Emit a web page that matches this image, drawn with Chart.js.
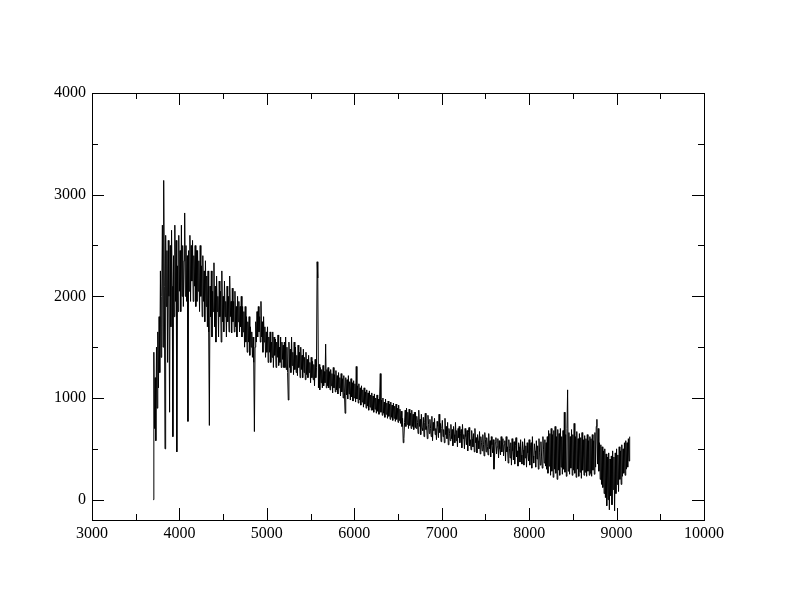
<!DOCTYPE html>
<html>
<head>
<meta charset="utf-8">
<script src="https://cdn.jsdelivr.net/npm/chart.js@4.4.1/dist/chart.umd.min.js"></script>
<style>
  html, body { margin: 0; padding: 0; background: #fff; }
  #wrap { width: 792px; height: 612px; }
</style>
</head>
<body>
<div id="wrap"><canvas id="grafico" width="792" height="612"></canvas></div>
<script>
const step = 7.5
const flux3700 = [0, 1450, 700, 1200, 580, 1500, 900, 1650, 1100, 1800, 1250, 2250, 1400, 2000, 2700, 1500, 3140, 2100, 500, 2600, 1900, 2450, 1350, 2550, 2000, 860, 2500, 1700, 2650, 2100, 620, 2400, 1800, 2700, 1950, 2550, 470, 2300, 1850, 2600, 2050, 2450, 1850, 2700, 2000, 2500, 1900, 2350, 2820, 2000, 2500, 1950, 2400, 770, 2450, 2050, 2600, 1950, 2500, 2150, 2550, 1950, 2400, 2100, 2500, 1900, 2450]
const flux4200 = [1950, 2450, 2050, 2350, 1850, 2500, 2000, 2300, 1800, 2400, 1950, 2250, 1750, 2350, 1900, 2200, 1700, 2250, 1650, 730, 2100, 1800, 2250, 1600, 2050, 1850, 2330, 1700, 2100, 1550, 2200, 1850, 2000, 1600, 2150, 1800, 2050, 1550, 2250, 1750, 2000, 1650, 2150, 1800, 1950, 1600, 2100, 1750, 2000, 1650, 2200, 1800, 1950, 1640, 2080, 1750, 1950, 1650, 2050, 1700, 1900, 1600, 2000, 1750, 1950, 1650, 1900]
const flux4700 = [1700, 2000, 1600, 1900, 1650, 1850, 1500, 1900, 1550, 1800, 1450, 1750, 1550, 1800, 1420, 1700, 1500, 1650, 1400, 1600, 1350, 670, 1500, 1750, 1550, 1850, 1600, 1900, 1650, 1800, 1550, 1950, 1600, 1750, 1450, 1800, 1550, 1700, 1400, 1650, 1450, 1700, 1350, 1600, 1450, 1650, 1350, 1550, 1400, 1650, 1300, 1600, 1420, 1580, 1300, 1550, 1400, 1620, 1320, 1500, 1350, 1600, 1300, 1550, 1380, 1520, 1300]
const flux5200 = [1550, 1300, 1600, 1280, 1500, 1250, 980, 1550, 1300, 1480, 1250, 1600, 1320, 1450, 1230, 1550, 1280, 1500, 1250, 1420, 1220, 1520, 1300, 1450, 1200, 1500, 1280, 1420, 1200, 1480, 1250, 1400, 1180, 1450, 1230, 1380, 1200, 1420, 1250, 1350, 1150, 1400, 1200, 1360, 1180, 1330, 1120, 1380, 1200, 1300, 2340, 2180, 1100, 1330, 1080, 1300, 1150, 1280, 1100, 1320, 1120, 1260, 1150, 1530, 1100, 1280, 1120]
const flux5700 = [1300, 1100, 1260, 1080, 1280, 1120, 1240, 1050, 1300, 1100, 1230, 1060, 1270, 1080, 1220, 1040, 1250, 1100, 1200, 1020, 1240, 1060, 1190, 1000, 1220, 1050, 850, 1200, 1030, 1180, 990, 1220, 1040, 1160, 980, 1190, 1010, 1150, 970, 1170, 1000, 1140, 960, 1310, 990, 1120, 950, 1140, 980, 1100, 930, 1120, 960, 1080, 910, 1100, 940, 1060, 900, 1080, 920, 1050, 880, 1070, 910, 1030, 880]
const flux6200 = [1050, 880, 1020, 860, 1040, 890, 1000, 850, 1030, 870, 990, 840, 1010, 1240, 860, 980, 830, 1000, 850, 960, 810, 990, 840, 950, 800, 970, 820, 940, 790, 960, 810, 930, 780, 950, 800, 920, 770, 940, 790, 900, 760, 930, 780, 890, 750, 870, 720, 800, 560, 600, 760, 880, 720, 900, 740, 860, 700, 890, 730, 850, 700, 880, 720, 840, 690, 860, 710]
const flux6700 = [860, 700, 820, 760, 650, 880, 720, 790, 640, 840, 700, 680, 810, 620, 760, 850, 690, 720, 600, 830, 740, 650, 790, 700, 620, 820, 580, 760, 680, 800, 640, 700, 590, 770, 720, 610, 840, 660, 750, 570, 700, 780, 620, 690, 560, 800, 640, 720, 600, 760, 540, 700, 650, 580, 740, 600, 690, 530, 720, 640, 560, 760, 580, 680, 520, 700, 610]
const flux7200 = [720, 560, 650, 690, 510, 740, 600, 640, 500, 700, 620, 540, 680, 480, 660, 710, 530, 590, 490, 680, 600, 520, 650, 470, 700, 560, 610, 460, 640, 580, 500, 670, 450, 620, 560, 480, 640, 540, 430, 660, 590, 470, 610, 520, 440, 650, 500, 580, 420, 620, 540, 460, 590, 300, 430, 560, 610, 450, 520, 600, 410, 580, 500, 440, 620, 470, 560]
const flux7700 = [600, 430, 540, 580, 380, 620, 470, 520, 360, 590, 500, 410, 560, 340, 600, 480, 390, 570, 350, 530, 610, 420, 480, 330, 560, 520, 370, 590, 440, 350, 570, 490, 340, 600, 410, 530, 320, 560, 460, 380, 590, 340, 510, 560, 310, 620, 430, 360, 550, 480, 320, 580, 400, 530, 300, 600, 460, 340, 570, 420, 310, 620, 490, 360, 590, 330, 560]
const flux8200 = [300, 620, 260, 680, 330, 650, 240, 700, 280, 640, 220, 680, 300, 720, 260, 620, 200, 690, 290, 650, 240, 700, 320, 620, 250, 680, 300, 860, 270, 640, 230, 700, 1080, 280, 660, 250, 620, 310, 690, 240, 640, 290, 750, 260, 620, 220, 670, 300, 600, 230, 650, 270, 610, 210, 660, 290, 590, 240, 630, 270, 600, 230, 640, 280, 580, 240, 620]
const flux8700 = [260, 600, 230, 640, 290, 580, 250, 660, 320, 720, 790, 350, 700, 280, 560, 200, 540, 150, 520, 120, 480, 60, 500, 20, 450, -60, 420, 0, 460, -100, 400, 40, 430, -50, 480, 100, 420, -110, 460, 60, 500, 150, 440, 80, 520, 200, 480, 150, 540, 230, 500, 260, 560, 240, 580, 300, 560, 320, 600, 380, 620]

const chunkStarts = [3700, 4200, 4700, 5200, 5700, 6200, 6700, 7200, 7700, 8200, 8700]
const chunks = [flux3700, flux4200, flux4700, flux5200, flux5700, flux6200, flux6700, flux7200, flux7700, flux8200, flux8700]

const xTicks = [3000, 4000, 5000, 6000, 7000, 8000, 9000, 10000]
const yTicks = [0, 1000, 2000, 3000, 4000]
const xMinor = [3500, 4500, 5500, 6500, 7500, 8500, 9500]
const yMinor = [500, 1500, 2500, 3500]

const pontos = []
chunks.forEach((arr, k) => {
  arr.forEach((v, i) => pontos.push({ x: chunkStarts[k] + i * step, y: v }))
})

// box round the plot with ticks pointing in, on all four sides
const moldura = {
  id: 'moldura',
  afterDraw(chart) {
    const ctx = chart.ctx
    const a = chart.chartArea
    const sx = chart.scales.x
    const sy = chart.scales.y
    ctx.save()
    ctx.strokeStyle = '#000'
    ctx.lineWidth = 1
    ctx.strokeRect(a.left + 0.5, a.top + 0.5, a.right - a.left, a.bottom - a.top)
    ctx.beginPath()
    const tx = (v, len) => {
      const p = Math.round(sx.getPixelForValue(v)) + 0.5
      ctx.moveTo(p, a.bottom); ctx.lineTo(p, a.bottom - len)
      ctx.moveTo(p, a.top); ctx.lineTo(p, a.top + len)
    }
    const ty = (v, len) => {
      const p = Math.round(sy.getPixelForValue(v)) + 0.5
      ctx.moveTo(a.left, p); ctx.lineTo(a.left + len, p)
      ctx.moveTo(a.right, p); ctx.lineTo(a.right - len, p)
    }
    xTicks.forEach(v => tx(v, 12))
    xMinor.forEach(v => tx(v, 6))
    yTicks.forEach(v => ty(v, 12))
    yMinor.forEach(v => ty(v, 6))
    ctx.stroke()
    ctx.restore()
  }
}

const fonte = { family: '"Liberation Serif", "DejaVu Serif", serif', size: 16 }

new Chart(document.getElementById('grafico').getContext('2d'), {
  type: 'scatter',
  data: {
    datasets: [{
      data: pontos,
      showLine: true,
      borderColor: '#000',
      borderWidth: 1,
      pointRadius: 0,
      tension: 0
    }]
  },
  options: {
    responsive: false,
    animation: false,
    layout: { padding: { left: 0, top: 93, right: 88, bottom: 66 } },
    plugins: { legend: { display: false }, tooltip: { enabled: false } },
    scales: {
      x: {
        type: 'linear',
        min: 3000,
        max: 10000,
        afterBuildTicks: s => { s.ticks = xTicks.map(v => ({ value: v })) },
        afterFit: s => { s.height = 26 },
        grid: { display: false, drawTicks: false },
        border: { display: false },
        ticks: { color: '#000', font: fonte, padding: 4, maxRotation: 0, callback: v => String(v) }
      },
      y: {
        type: 'linear',
        min: -200,
        max: 4000,
        afterBuildTicks: s => { s.ticks = yTicks.map(v => ({ value: v })) },
        afterFit: s => { s.width = 92 },
        grid: { display: false, drawTicks: false },
        border: { display: false },
        ticks: { color: '#000', font: fonte, padding: 6, callback: v => String(v) }
      }
    }
  },
  plugins: [moldura]
})
</script>
</body>
</html>
